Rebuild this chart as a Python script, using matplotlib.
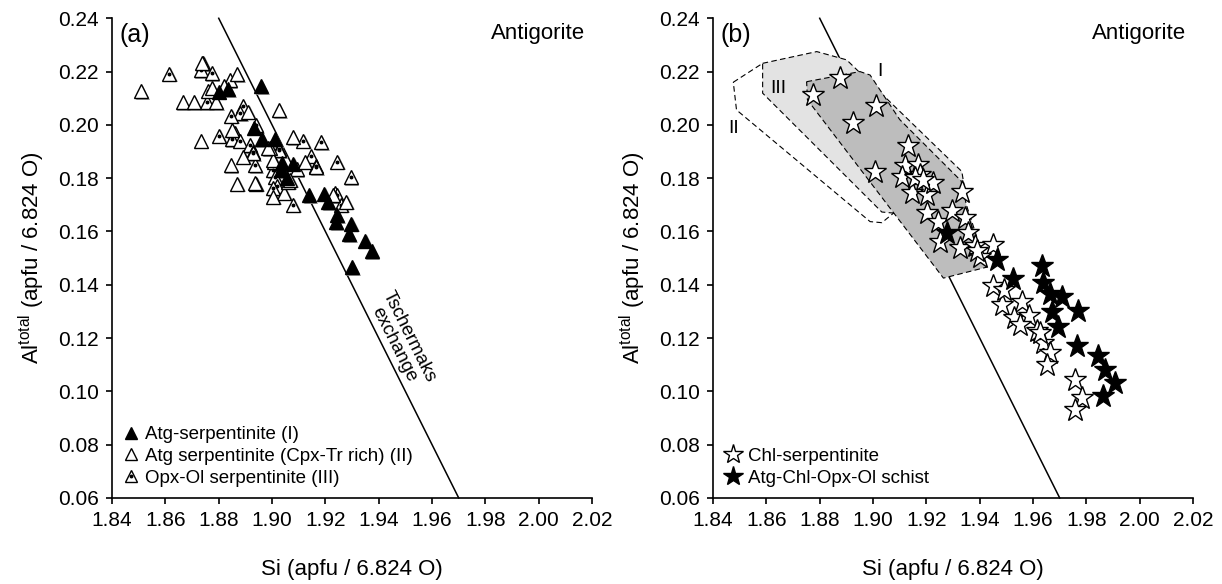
import matplotlib
matplotlib.use("Agg")
import matplotlib.pyplot as plt
from matplotlib.patches import Polygon
from matplotlib.ticker import MultipleLocator, FormatStrFormatter
from matplotlib.transforms import offset_copy

plt.rcParams["font.family"] = ["Liberation Sans", "DejaVu Sans"]
plt.rcParams["mathtext.default"] = "regular"

# panel (a): antigorite in serpentinites
atg_I_si = [1.8958, 1.8800, 1.8835, 1.8932, 1.8961, 1.9011, 1.9080, 1.9036, 1.9034,
            1.9055, 1.9140, 1.9195, 1.9211, 1.9243, 1.9240, 1.9296, 1.9289, 1.9349,
            1.9374, 1.9301]
atg_I_al = [0.2145, 0.2125, 0.2135, 0.1990, 0.1946, 0.1946, 0.1855, 0.1856, 0.1831,
            0.1800, 0.1736, 0.1742, 0.1711, 0.1660, 0.1635, 0.1629, 0.1591, 0.1566,
            0.1525, 0.1465]

atg_II_si = [1.8508, 1.8665, 1.8708, 1.8790, 1.8736, 1.8841, 1.8868, 1.8820, 1.8776,
             1.9026, 1.8911, 1.8851, 1.8732, 1.9080, 1.8992, 1.8892, 1.8845, 1.9005,
             1.9092, 1.8868, 1.8940, 1.9045, 1.9061, 1.9005, 1.8986, 1.9124, 1.8937,
             1.9068, 1.9229, 1.9279]
atg_II_al = [0.2126, 0.2086, 0.2084, 0.2084, 0.2231, 0.2169, 0.2190, 0.2146, 0.2138,
             0.2056, 0.2050, 0.1981, 0.1941, 0.1954, 0.1915, 0.1881, 0.1850, 0.1869,
             0.1834, 0.1779, 0.1779, 0.1746, 0.1787, 0.1731, 0.1913, 0.1862, 0.1781,
             0.1794, 0.1737, 0.1712]

atg_III_si = [1.8615, 1.8742, 1.8732, 1.8774, 1.8755, 1.8759, 1.8891, 1.8881, 1.8846,
              1.8861, 1.8801, 1.8848, 1.8878, 1.9117, 1.9183, 1.8917, 1.9026, 1.8927,
              1.8937, 1.9145, 1.9163, 1.9243, 1.9295, 1.9005, 1.9011, 1.9020, 1.9236,
              1.8930, 1.9027, 1.9007, 1.9165, 1.9005, 1.9078, 1.9245, 1.9258, 1.8940]
atg_III_al = [0.2192, 0.2233, 0.2206, 0.2194, 0.2084, 0.2128, 0.2069, 0.2044, 0.2034,
              0.1969, 0.1959, 0.1946, 0.1941, 0.1941, 0.1934, 0.1925, 0.1910, 0.1900,
              0.1850, 0.1884, 0.1844, 0.1862, 0.1804, 0.1829, 0.1806, 0.1769, 0.1744,
              0.1894, 0.1906, 0.1862, 0.1841, 0.1763, 0.1700, 0.1737, 0.1700, 0.2000]

# panel (b): antigorite in chlorite-bearing rocks
chl_si = [1.8776, 1.8876, 1.9011, 1.8924, 1.9007, 1.9132, 1.9120, 1.9170, 1.9176,
          1.9108, 1.9145, 1.9201, 1.9226, 1.9201, 1.9245, 1.9157, 1.9189, 1.9332,
          1.9295, 1.9345, 1.9357, 1.9327, 1.9382, 1.9451, 1.9401, 1.9250, 1.9389,
          1.9451, 1.9483, 1.9558, 1.9527, 1.9583, 1.9551, 1.9614, 1.9639, 1.9663,
          1.9651, 1.9757, 1.9782, 1.9757, 1.9626, 1.9490]
chl_al = [0.2112, 0.2175, 0.2072, 0.2006, 0.1825, 0.1921, 0.1844, 0.1850, 0.1812,
          0.1806, 0.1744, 0.1737, 0.1781, 0.1671, 0.1637, 0.1800, 0.1794, 0.1750,
          0.1675, 0.1650, 0.1594, 0.1538, 0.1544, 0.1550, 0.1506, 0.1562, 0.1525,
          0.1394, 0.1325, 0.1337, 0.1275, 0.1281, 0.1250, 0.1225, 0.1181, 0.1144,
          0.1100, 0.1044, 0.0975, 0.0931, 0.1219, 0.1380]

schist_si = [1.9276, 1.9463, 1.9526, 1.9632, 1.9639, 1.9663, 1.9707, 1.9670, 1.9770,
             1.9695, 1.9764, 1.9845, 1.9870, 1.9908, 1.9864]
schist_al = [0.1594, 0.1494, 0.1421, 0.1469, 0.1406, 0.1366, 0.1356, 0.1296, 0.1300,
             0.1241, 0.1169, 0.1131, 0.1081, 0.1031, 0.0981]

# composition fields from panel (a)
field_I = [(1.8751, 0.2162), (1.8951, 0.2200), (1.8989, 0.2187), (1.9100, 0.2020),
           (1.9330, 0.1790), (1.9350, 0.1700), (1.9426, 0.1466), (1.9264, 0.1425),
           (1.8754, 0.2094)]
field_II = [(1.8476, 0.2160), (1.8586, 0.2231), (1.8700, 0.2100), (1.9077, 0.1669),
            (1.9033, 0.1633), (1.8989, 0.1637), (1.8488, 0.2056)]
field_III = [(1.8586, 0.2231), (1.8789, 0.2275), (1.8901, 0.2244), (1.9333, 0.1825),
             (1.9345, 0.1750), (1.9320, 0.1700), (1.9077, 0.1669), (1.9033, 0.1673),
             (1.8586, 0.2119)]

# Tschermak exchange line
tsch_si = [1.88, 1.97]
tsch_al = [0.24, 0.06]

TICK_FS = 15
LABEL_FS = 16


def style_axes(ax, tag):
    ax.set_xlim(1.84, 2.02)
    ax.set_ylim(0.06, 0.24)
    ax.xaxis.set_major_locator(MultipleLocator(0.02))
    ax.yaxis.set_major_locator(MultipleLocator(0.02))
    ax.xaxis.set_major_formatter(FormatStrFormatter("%.2f"))
    ax.yaxis.set_major_formatter(FormatStrFormatter("%.2f"))
    for side in ("top", "right"):
        ax.spines[side].set_visible(False)
    for side in ("left", "bottom"):
        ax.spines[side].set_linewidth(1.2)
    ax.tick_params(direction="out", length=4.5, width=1.2, labelsize=TICK_FS, pad=5)
    ax.set_xlabel("Si (apfu / 6.824 O)", fontsize=LABEL_FS, labelpad=21)
    ax.set_ylabel("Al$^{total}$ (apfu / 6.824 O)", fontsize=LABEL_FS, labelpad=8)
    ax.text(0.015, 0.99, tag, transform=ax.transAxes, fontsize=18, ha="left", va="top")
    ax.text(0.985, 0.99, "Antigorite", transform=ax.transAxes, fontsize=16,
            ha="right", va="top")
    ax.plot(tsch_si, tsch_al, color="black", lw=1.1, zorder=1, clip_on=False)


fig = plt.figure(figsize=(12.22, 5.84), dpi=100)
ax1 = fig.add_axes([0.0917, 0.1473, 0.3928, 0.8214])
ax2 = fig.add_axes([0.5835, 0.1473, 0.3928, 0.8214])

# ---- panel (a)
style_axes(ax1, "(a)")
tri = dict(marker="^", ms=10, ls="none", mec="black", mew=1.0)
# sigmaplot-ish drop shadow under the triangles
shadow = offset_copy(ax1.transData, fig=fig, x=1.2, y=-1.2, units="points")
for xs, ys in ((atg_III_si, atg_III_al), (atg_II_si, atg_II_al), (atg_I_si, atg_I_al)):
    ax1.plot(xs, ys, marker="^", ms=10, ls="none", color="#9a9a9a", mew=0,
             transform=shadow, zorder=2)
h3, = ax1.plot(atg_III_si, atg_III_al, mfc="white", zorder=3, **tri)
dot, = ax1.plot(atg_III_si, atg_III_al, marker="o", ms=1.8, ls="none",
                color="black", zorder=3)
h2, = ax1.plot(atg_II_si, atg_II_al, mfc="white", zorder=4, **tri)
h1, = ax1.plot(atg_I_si, atg_I_al, mfc="black", zorder=5, **tri)
ax1.text(1.9485, 0.119, "Tschermaks\nexchange", rotation=-63.4, fontsize=13.5,
         ha="center", va="center", rotation_mode="anchor", linespacing=1.0)

leg_tri = dict(marker="^", ls="none", mec="black", mew=1.0, ms=9)
l1, = ax1.plot([], [], mfc="black", **leg_tri)
l2, = ax1.plot([], [], mfc="white", **leg_tri)
l3a, = ax1.plot([], [], mfc="white", **leg_tri)
l3b, = ax1.plot([], [], marker="o", ms=1.8, ls="none", color="black")
ax1.legend([l1, l2, (l3a, l3b)],
           ["Atg-serpentinite (I)", "Atg serpentinite (Cpx-Tr rich) (II)",
            "Opx-Ol serpentinite (III)"],
           loc="lower left", frameon=False, fontsize=13.5, handlelength=0.8,
           handletextpad=0.35, labelspacing=0.25, borderaxespad=0.4,
           borderpad=0.2)

# ---- panel (b)
style_axes(ax2, "(b)")
poly_kw = dict(closed=True, ec="black", lw=0.8, ls=(0, (5, 3)))
ax2.add_patch(Polygon(field_II, fc="white", zorder=2, **poly_kw))
ax2.add_patch(Polygon(field_III, fc="#e3e3e3", zorder=3, **poly_kw))
ax2.add_patch(Polygon(field_I, fc="#bdbdbd", zorder=4, **poly_kw))
ax2.text(1.9026, 0.2200, "I", fontsize=14, ha="center", va="center", zorder=6)
ax2.text(1.8645, 0.2138, "III", fontsize=14, ha="center", va="center", zorder=6)
ax2.text(1.8476, 0.1988, "II", fontsize=14, ha="center", va="center", zorder=6)

star = dict(marker="*", ms=17, ls="none", mec="black", mew=1.0)
s1, = ax2.plot(chl_si, chl_al, mfc="white", zorder=7, **star)
s2, = ax2.plot(schist_si, schist_al, mfc="black", zorder=8, **star)
leg_star = dict(marker="*", ms=15, ls="none", mec="black", mew=1.0)
k1, = ax2.plot([], [], mfc="white", **leg_star)
k2, = ax2.plot([], [], mfc="black", **leg_star)
ax2.legend([k1, k2], ["Chl-serpentinite", "Atg-Chl-Opx-Ol schist"],
           loc="lower left", frameon=False, fontsize=13.5, handlelength=0.9,
           handletextpad=0.35, labelspacing=0.25, borderaxespad=0.4,
           borderpad=0.2)

fig.savefig("out.png", dpi=100)
